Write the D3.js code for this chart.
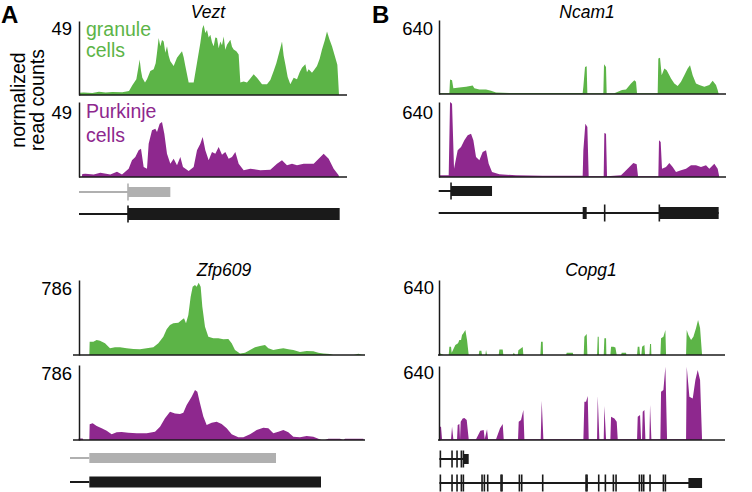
<!DOCTYPE html>
<html><head><meta charset="utf-8">
<script src="https://cdn.jsdelivr.net/npm/d3@7"></script>
<style>
body{margin:0;background:#fff}
svg{display:block}
text{font-family:"Liberation Sans",Arial,Helvetica,sans-serif}
</style>
</head><body>
<svg id="c" width="752" height="492"></svg>
<script>
// ---------------- DATA ----------------
const geneNames = ["Vezt", "Ncam1", "Zfp609", "Copg1"];
const panelLetters = ["A", "B"];
const yMaxLabels = [49, 640, 786, 640];
const granuleLabel = ["granule", "cells"];
const purkinjeLabel = ["Purkinje", "cells"];
const yAxisTitle = ["normalized", "read counts"];
// coverage tracks: [position, normalized read count]
const veztGranule = [[0,0],[1,1.5],[14,1.7],[40,1.4],[60,2.2],[80,1.6],[100,2.0],[130,1.8],[150,2.6],[160,6.5],[172,10.5],[178,18],[182,23.5],[186,16],[190,11.5],[198,8.3],[204,10.5],[214,15.9],[224,17.0],[230,21],[234,27.9],[239,37.7],[244,32.2],[249,36.5],[254,35.5],[259,27.9],[264,32.2],[269,26],[274,22.4],[284,19.2],[294,24.6],[302,27],[309,29.0],[314,25],[319,19.2],[329,8.3],[344,8.3],[354,21.3],[364,34.4],[370,44],[374,46.4],[379,41],[384,43.1],[389,38],[394,39.9],[399,35],[404,32.2],[409,38],[414,37.7],[419,31],[424,35.5],[429,33],[434,38.8],[439,30],[444,33.3],[449,35],[454,36.6],[459,32],[464,30.1],[472,29],[479,26.8],[484,8.3],[494,9],[504,8.3],[514,11],[524,13.7],[534,11.5],[549,7.2],[564,7.2],[574,10],[584,15.9],[592,21],[599,26.8],[604,31],[609,35.5],[614,26],[619,20.3],[626,12],[634,7.2],[644,11.5],[654,10.5],[662,15],[669,18.1],[679,20.3],[684,15],[689,17.0],[699,14.8],[707,17],[714,19.2],[722,24],[729,30.1],[737,36],[744,42.0],[751,37],[759,32.2],[769,24.6],[775,20],[778,8.3],[780,0]];
const veztPurkinje = [[8,0],[10,2.0],[19,2.2],[44,1.7],[64,2.8],[94,1.7],[114,3.5],[129,1.7],[149,5.4],[159,10.9],[169,13.1],[179,17.4],[186,18.5],[194,6.5],[204,5.4],[209,21.8],[219,30.5],[229,31.6],[234,29.4],[242,34.8],[249,35.9],[256,28.3],[264,15.2],[274,8.7],[284,12.0],[294,7.6],[304,13.1],[312,6.5],[329,3.9],[344,6.5],[354,17.4],[364,21.8],[371,26.1],[379,17.4],[389,10.9],[399,16.3],[409,15.2],[419,19.6],[429,14.6],[439,16.3],[449,12.0],[459,13.1],[469,16.3],[479,8.7],[494,4.4],[514,5.4],[544,4.4],[574,4.8],[594,8.7],[609,10.9],[624,7.6],[639,8.7],[654,7.6],[674,8.7],[704,8.7],[719,12.0],[734,15.2],[749,12.0],[764,5.4],[779,1.1],[780,0]];
const ncam1Granule = [[2,0],[3,6],[32,6],[34,126],[40,120],[44,49],[62,57],[82,63],[102,74],[107,49],[122,40],[142,40],[157,29],[172,14],[212,9],[300,8],[432,9],[434,63],[439,234],[444,240],[446,6],[494,6],[496,257],[502,234],[504,6],[527,6],[550,34],[562,40],[577,91],[587,120],[592,106],[595,6],[657,6],[659,306],[664,314],[669,163],[677,220],[684,206],[692,163],[697,134],[707,91],[717,69],[727,106],[737,163],[747,220],[754,249],[762,163],[772,91],[782,77],[797,63],[812,77],[822,114],[832,77],[837,34],[840,0]];
const ncam1Purkinje = [[2,0],[3,14],[30,14],[34,640],[40,626],[46,71],[50,128],[57,228],[67,256],[77,313],[87,356],[97,370],[104,313],[112,171],[122,142],[132,213],[142,228],[150,114],[160,43],[182,23],[232,14],[312,11],[432,11],[434,228],[440,455],[446,427],[450,6],[495,6],[497,375],[502,370],[505,6],[547,14],[557,43],[572,85],[584,119],[594,108],[598,6],[659,6],[661,313],[666,299],[670,71],[682,85],[692,119],[702,85],[712,43],[727,57],[742,71],[757,100],[772,100],[787,85],[802,100],[812,71],[827,114],[837,71],[842,0]];
const zfp609Granule = [[58,0],[59,140],[70,140],[80,157],[90,150],[105,122],[120,70],[135,80],[150,80],[170,70],[190,63],[210,59],[230,70],[250,80],[265,122],[280,192],[290,269],[300,314],[310,332],[325,339],[335,367],[342,384],[348,332],[355,419],[362,611],[368,716],[375,734],[380,716],[386,758],[392,716],[397,506],[405,297],[415,192],[430,175],[445,175],[460,164],[475,168],[485,122],[495,52],[510,17],[525,24],[540,52],[555,80],[570,94],[585,105],[595,70],[610,52],[625,63],[640,70],[655,59],[670,52],[690,31],[710,42],[730,38],[745,24],[760,17],[780,10],[790,0],[850,0],[855,3],[865,14],[875,3],[880,0]];
const zfp609Purkinje = [[25,0],[26,17],[38,17],[40,0],[58,0],[59,164],[68,175],[80,147],[95,122],[110,98],[125,59],[140,80],[155,84],[175,77],[200,70],[230,70],[255,87],[270,140],[285,227],[300,297],[315,279],[330,272],[340,286],[350,367],[365,454],[375,524],[382,506],[390,384],[400,245],[410,157],[425,182],[440,192],[455,168],[470,122],[485,59],[505,28],[520,28],[540,59],[560,105],[580,129],[595,122],[610,70],[625,87],[640,105],[655,80],[670,35],[690,28],[710,42],[730,35],[745,14],[755,0],[765,0],[775,14],[810,14],[820,0],[825,14],[880,14],[881,0]];
const copg1Granule = [[2,0],[3,14],[15,0],[30,0],[32,71],[37,71],[39,20],[50,85],[58,100],[62,128],[67,128],[70,170],[74,185],[80,213],[85,128],[90,0],[120,0],[122,37],[128,37],[130,0],[140,0],[142,43],[145,0],[180,0],[182,48],[192,48],[194,0],[222,0],[225,20],[230,0],[237,0],[239,40],[247,57],[252,68],[254,0],[305,0],[307,114],[312,114],[313,0],[382,0],[384,20],[402,20],[404,0],[435,0],[437,156],[444,179],[446,0],[475,0],[477,156],[480,156],[481,0],[495,0],[497,142],[502,142],[503,0],[515,0],[517,71],[524,71],[530,63],[534,0],[547,0],[549,20],[562,20],[563,0],[595,0],[597,71],[602,71],[604,0],[608,0],[610,71],[617,85],[619,0],[632,0],[634,94],[637,94],[638,0],[665,0],[667,142],[674,156],[680,213],[682,0],[742,0],[744,213],[749,171],[757,128],[764,156],[772,230],[778,299],[784,230],[790,0]];
const copg1Purkinje = [[2,0],[3,115],[7,115],[10,6],[37,6],[40,115],[44,6],[55,6],[57,130],[62,138],[64,6],[66,158],[72,187],[77,190],[84,173],[90,6],[112,6],[125,81],[135,86],[138,6],[145,92],[148,6],[172,6],[184,101],[192,138],[195,6],[238,6],[240,158],[247,173],[254,259],[257,6],[306,6],[309,340],[314,6],[434,6],[437,331],[442,331],[447,380],[450,6],[475,6],[477,380],[482,6],[495,6],[497,294],[502,6],[515,6],[517,202],[527,187],[534,158],[537,6],[595,6],[597,202],[604,216],[607,6],[610,6],[612,245],[617,259],[620,6],[632,6],[634,302],[638,6],[665,6],[667,418],[674,432],[680,634],[685,6],[742,6],[744,634],[752,374],[762,360],[770,518],[777,605],[784,518],[790,0]];
// gene models: intron line [start,end], exons [[start,end]], thin exon ticks
const veztTxGrey = {line:[0,147], exons:[[147,274]], ticks:[147]};
const veztTxBlack = {line:[0,147], exons:[[147,782]], ticks:[147]};
const ncam1TxShort = {line:[0,37], exons:[[37,160]], ticks:[37]};
const ncam1TxLong = {line:[0,840], exons:[[432,444],[662,840]], ticks:[498,662]};
const zfp609TxGrey = {line:[0,58], exons:[[58,618]], ticks:[]};
const zfp609TxBlack = {line:[0,58], exons:[[58,753]], ticks:[]};
const copg1TxShort = {line:[2,77], exons:[[74,90]], ticks:[5,40,55,68,74]};
const copg1TxLong = {line:[2,770], exons:[[442,446],[749,790]], ticks:[5,40,55,68,74,130,137,147,187,190,242,249,312,442,445,480,500,524,532,602,609,615,634,674,680]};

// ---------------- LAYOUT / STYLE ----------------
const GREEN = "#5cb447", PURPLE = "#8e288e", GREY = "#b0b0b0", INK = "#1a1a1a";
const svg = d3.select("#c");

const panels = [
  {title:geneNames[0], ymax:yMaxLabels[0], domain:[0,804], range:[79,347], axisX:79, base:[79,347],
   g:[21,95], p:[102,177], labelX:72, labelY:[35,119], titleX:208, titleY:18,
   gData:veztGranule, pData:veztPurkinje, tx:[[veztTxGrey,192,10,GREY],[veztTxBlack,214,12,INK]], cellLabels:true},
  {title:geneNames[1], ymax:yMaxLabels[1], domain:[0,862], range:[438.7,726], axisX:439, base:[439,726],
   g:[20,94], p:[102,177], labelX:433, labelY:[35,119], titleX:587, titleY:18,
   gData:ncam1Granule, pData:ncam1Purkinje, tx:[[ncam1TxShort,191,10,INK],[ncam1TxLong,213,12,INK]]},
  {title:geneNames[2], ymax:yMaxLabels[2], domain:[0,885], range:[70,365], axisX:79, base:[73,365],
   g:[280,355], p:[365,440], labelX:72, labelY:[295,380], titleX:224, titleY:276,
   gData:zfp609Granule, pData:zfp609Purkinje, tx:[[zfp609TxGrey,458,10,GREY],[zfp609TxBlack,482,11,INK]]},
  {title:geneNames[3], ymax:yMaxLabels[3], domain:[0,860], range:[438.7,725.4], axisX:439, base:[438,725],
   g:[280,355], p:[366,440], labelX:434, labelY:[294,379], titleX:591, titleY:276,
   gData:copg1Granule, pData:copg1Purkinje, tx:[[copg1TxShort,459,10,INK],[copg1TxLong,483,10,INK]]}
];

panels.forEach(P => {
  const x = d3.scaleLinear().domain(P.domain).range(P.range);
  // title
  svg.append("text").attr("x", P.titleX).attr("y", P.titleY).attr("text-anchor","middle")
    .attr("font-size", 17.5).attr("font-style","italic").attr("fill","#000").text(P.title);

  [[P.g, P.gData, GREEN, 0], [P.p, P.pData, PURPLE, 1]].forEach(([tr, data, col, i]) => {
    const y = d3.scaleLinear().domain([0, P.ymax]).range([tr[1], tr[0]]);
    const area = d3.area().x(d => x(d[0])).y0(y(0)).y1(d => y(d[1])).curve(d3.curveLinear);
    svg.append("path").datum(data).attr("d", area).attr("fill", col);
    // baseline
    svg.append("line").attr("x1", P.base[0]).attr("x2", P.base[1])
      .attr("y1", y(0)).attr("y2", y(0)).attr("stroke", INK).attr("stroke-width", 1.5);
    // vertical axis (no ticks) using d3 axis
    const ax = d3.axisLeft(y).tickValues([]).tickSizeOuter(0);
    const g = svg.append("g").attr("transform", `translate(${P.axisX},0)`).call(ax);
    g.select(".domain").attr("stroke", INK).attr("stroke-width", 1.5);
    // max label
    svg.append("text").attr("x", P.labelX).attr("y", P.labelY[i]).attr("text-anchor","end")
      .attr("font-size", 18.5).attr("fill","#000").text(P.ymax);
  });

  if (P.cellLabels) {
    const gl = svg.append("text").attr("font-size", 19.5).attr("fill", GREEN);
    gl.append("tspan").attr("x", 86).attr("y", 36).text(granuleLabel[0]);
    gl.append("tspan").attr("x", 86).attr("y", 57).text(granuleLabel[1]);
    const pl = svg.append("text").attr("font-size", 19.5).attr("fill", PURPLE);
    pl.append("tspan").attr("x", 86).attr("y", 118).text(purkinjeLabel[0]);
    pl.append("tspan").attr("x", 86).attr("y", 142).text(purkinjeLabel[1]);
  }

  // gene models
  P.tx.forEach(([t, yc, h, col]) => {
    const gg = svg.append("g");
    gg.append("line").attr("x1", x(t.line[0])).attr("x2", x(t.line[1]))
      .attr("y1", yc).attr("y2", yc).attr("stroke", col).attr("stroke-width", 2);
    t.exons.forEach(e => {
      gg.append("rect").attr("x", x(e[0])).attr("width", x(e[1]) - x(e[0]))
        .attr("y", yc - h/2).attr("height", h).attr("fill", col);
    });
    t.ticks.forEach(k => {
      gg.append("line").attr("x1", x(k)).attr("x2", x(k))
        .attr("y1", yc - 8.5).attr("y2", yc + 8.5).attr("stroke", col).attr("stroke-width", 1.6);
    });
  });
});

// panel letters
svg.append("text").attr("x", 1).attr("y", 23).attr("font-size", 24).attr("font-weight","bold").text(panelLetters[0]);
svg.append("text").attr("x", 372).attr("y", 23).attr("font-size", 24).attr("font-weight","bold").text(panelLetters[1]);

// y-axis title
const yt = svg.append("text").attr("transform","translate(25,100) rotate(-90)")
  .attr("text-anchor","middle").attr("font-size", 19.5).attr("fill","#000");
yt.append("tspan").attr("x",0).attr("y",0).text(yAxisTitle[0]);
yt.append("tspan").attr("x",0).attr("y",19).text(yAxisTitle[1]);
</script>
</body></html>
